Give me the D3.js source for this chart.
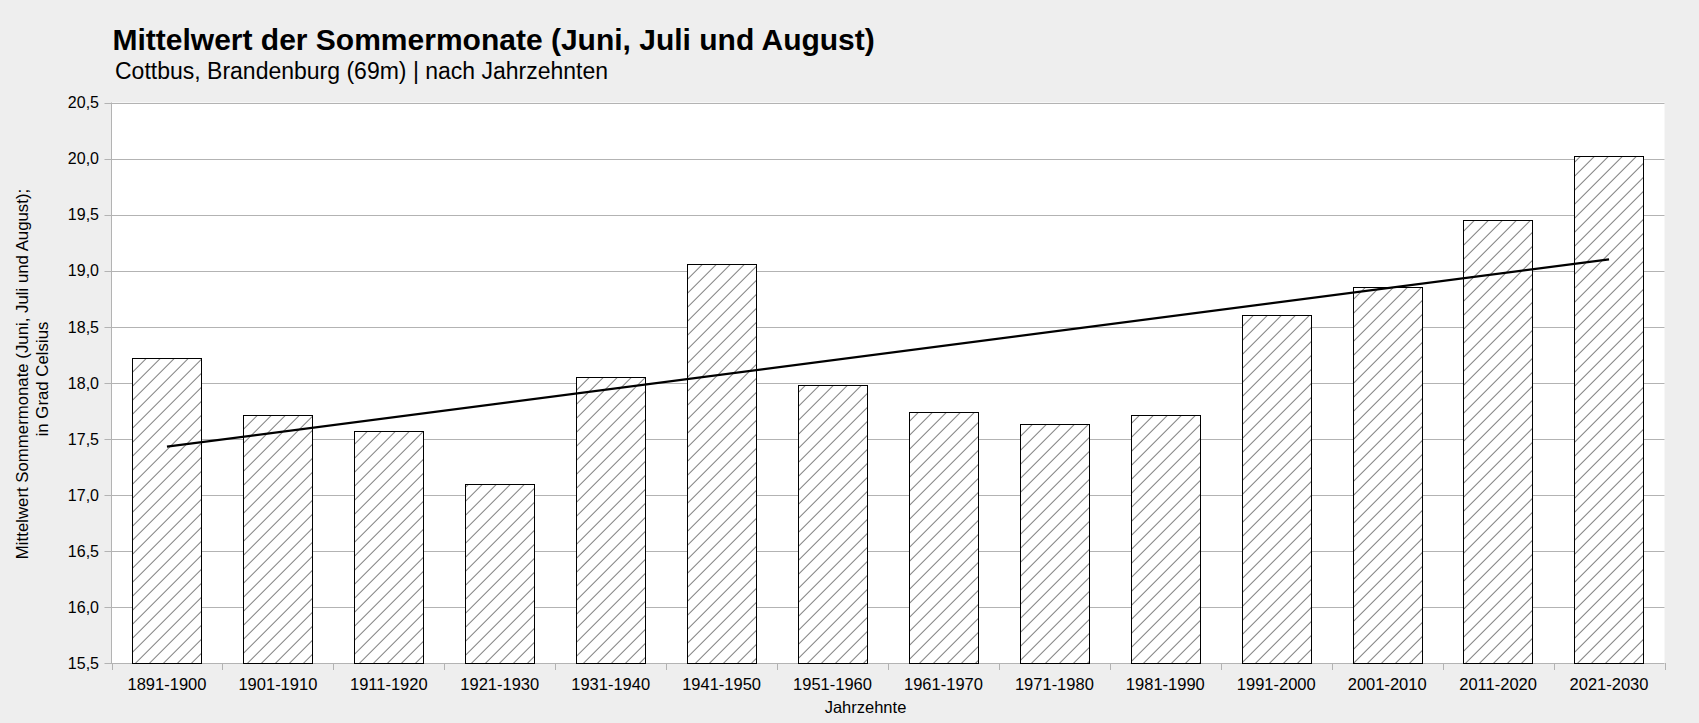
<!DOCTYPE html>
<html><head><meta charset="utf-8">
<script src="https://cdn.jsdelivr.net/npm/d3@7"></script>
<style>html,body{margin:0;padding:0;background:#eeeeee;}svg{display:block;font-family:"Liberation Sans",Arial,sans-serif;}</style>
</head><body>
<script>
const categories = ["1891-1900","1901-1910","1911-1920","1921-1930","1931-1940","1941-1950","1951-1960","1961-1970","1971-1980","1981-1990","1991-2000","2001-2010","2011-2020","2021-2030"];
const values = [18.22,17.71,17.57,17.10,18.05,19.06,17.98,17.74,17.63,17.71,18.60,18.85,19.45,20.02];
const trendValues = [17.43, 19.10]; // trend line at first and last category
const yTicks = [15.5,16.0,16.5,17.0,17.5,18.0,18.5,19.0,19.5,20.0,20.5];

const W=1699,H=723;
const m={l:111.5,r:1664.5,t:102.5,b:663};
const svg=d3.select("body").append("svg").attr("width",W).attr("height",H);
svg.append("rect").attr("width",W).attr("height",H).attr("fill","#eeeeee");

const defs=svg.append("defs");
const hs=9.9;
const pat=defs.append("pattern").attr("id","hatch").attr("patternUnits","userSpaceOnUse")
  .attr("width",hs).attr("height",hs).attr("patternTransform","rotate(45)");
pat.append("rect").attr("width",hs).attr("height",hs).attr("fill","#fff");
pat.append("line").attr("x1",0).attr("y1",0).attr("x2",0).attr("y2",hs).attr("stroke","#000").attr("stroke-width",1);

const x=d3.scaleBand().domain(categories).range([m.l,m.r]).paddingInner(0.375).paddingOuter(0.1875);
const xb=d3.scaleBand().domain(categories).range([m.l,m.r]);
const y=d3.scaleLinear().domain([15.5,20.5]).range([m.b,m.t]);

svg.append("rect").attr("x",m.l).attr("y",m.t).attr("width",m.r-m.l).attr("height",m.b-m.t).attr("fill","#fff");

// gridlines
svg.append("g").selectAll("line").data(yTicks).join("line")
  .attr("x1",m.l-7).attr("x2",m.r).attr("y1",d=>Math.round(y(d))+0.5).attr("y2",d=>Math.round(y(d))+0.5)
  .attr("stroke","#b3b3b3").attr("stroke-width",1);
// y axis line
svg.append("line").attr("x1",m.l).attr("x2",m.l).attr("y1",m.t).attr("y2",m.b).attr("stroke","#b3b3b3");
// x tick marks
const xt=categories.map(c=>xb(c)).concat([m.r]);
svg.append("g").selectAll("line").data(xt).join("line")
  .attr("x1",d=>Math.round(d)+0.5).attr("x2",d=>Math.round(d)+0.5).attr("y1",m.b).attr("y2",m.b+7)
  .attr("stroke","#b3b3b3");

// bars
svg.append("g").selectAll("rect").data(values).join("rect")
  .attr("x",(d,i)=>Math.round(x(categories[i]))+0.5)
  .attr("y",d=>Math.round(y(d))+0.5)
  .attr("width",Math.round(x.bandwidth()))
  .attr("height",d=>Math.round(y(15.5))-Math.round(y(d)))
  .attr("fill","url(#hatch)").attr("stroke","#000").attr("stroke-width",1);

// trend line
const c0=x(categories[0])+x.bandwidth()/2, c1=x(categories[categories.length-1])+x.bandwidth()/2;
svg.append("line").attr("x1",c0).attr("x2",c1).attr("y1",y(trendValues[0])).attr("y2",y(trendValues[1]))
  .attr("stroke","#000").attr("stroke-width",2.2);

// y tick labels
svg.append("g").selectAll("text").data(yTicks).join("text")
  .attr("x",99).attr("y",d=>y(d)+5.8).attr("text-anchor","end").attr("font-size","16px").attr("fill","#000")
  .text(d=>d3.format(".1f")(d).replace(".",","));
// x tick labels
svg.append("g").selectAll("text").data(categories).join("text")
  .attr("x",d=>x(d)+x.bandwidth()/2).attr("y",690).attr("text-anchor","middle").attr("font-size","16.5px").attr("fill","#000")
  .text(d=>d);

// axis titles
svg.append("text").attr("x",865.5).attr("y",712.7).attr("text-anchor","middle").attr("font-size","16.5px").text("Jahrzehnte");
svg.append("text").attr("transform","translate(27.5,374) rotate(-90)").attr("text-anchor","middle").attr("font-size","16.8px")
  .text("Mittelwert Sommermonate (Juni, Juli und August);");
svg.append("text").attr("transform","translate(47.5,379) rotate(-90)").attr("text-anchor","middle").attr("font-size","16.8px")
  .text("in Grad Celsius");

// titles
svg.append("text").attr("x",112.5).attr("y",50).attr("font-size","30px").attr("font-weight","bold").text("Mittelwert der Sommermonate (Juni, Juli und August)");
svg.append("text").attr("x",115).attr("y",79).attr("font-size","23px").text("Cottbus, Brandenburg (69m) | nach Jahrzehnten");
</script>
</body></html>
